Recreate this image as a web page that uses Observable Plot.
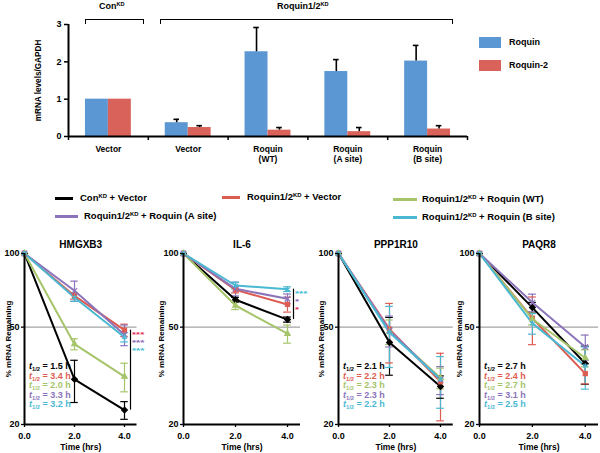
<!DOCTYPE html>
<html><head><meta charset="utf-8">
<script src="https://cdn.jsdelivr.net/npm/d3@7"></script>
<script src="https://cdn.jsdelivr.net/npm/@observablehq/plot@0.6"></script>
<style>
html,body{margin:0;padding:0;background:#fff;}
#root{position:relative;width:600px;height:453px;overflow:hidden;font-family:"Liberation Sans",Arial,sans-serif;font-weight:bold;color:#000;}
.abs{position:absolute;white-space:nowrap;}
sup.kd{font-size:0.62em;vertical-align:0;position:relative;top:-0.5em;}
</style></head><body><div id="root"></div>
<script>
// ---------- data: bar chart ----------
const barGroups = ["Vector", "Vector", "Roquin\n(WT)", "Roquin\n(A site)", "Roquin\n(B site)"];
const barSeries = ["Roquin", "Roquin-2"];
const roquinLevel = [1.00, 0.37, 2.27, 1.74, 2.02];
const roquinErr   = [0, 0.09, 0.65, 0.32, 0.42];
const roquin2Level = [1.00, 0.24, 0.17, 0.13, 0.20];
const roquin2Err   = [0, 0.05, 0.07, 0.11, 0.09];
const barYTicks = [0, 1, 2, 3];
const barColors = ["#5b97d2", "#d9625a"];
const bracketLabels = ["ConKD", "Roquin1/2KD"];

// ---------- data: decay curves ----------
const times = [0, 2, 4];
const genes = ["HMGXB3", "IL-6", "PPP1R10", "PAQR8"];
const lineSeries = ["ConKD + Vector", "Roquin1/2KD + Vector", "Roquin1/2KD + Roquin (WT)", "Roquin1/2KD + Roquin (A site)", "Roquin1/2KD + Roquin (B site)"];
const lineColors = ["#000000", "#dd5c52", "#a6c46a", "#8c74bb", "#4bb8d2"];
const starColors = ["#000000", "#e2345c", "#a6c46a", "#8a66b8", "#3fbcd6"];
const lineSymbols = ["diamond2", "square2", "triangle2", "times", "asterisk"];
const yTicksLine = [20, 50, 100];

const hmgxb3Mean = [[100,30.6,22.9],[100,67.1,48.6],[100,42.6,31.4],[100,70.4,46.5],[100,66.1,45.5]];
const hmgxb3Err  = [[0,6.0,1.9],[0,2.0,2.8],[0,2.2,4.2],[0,6.7,4.5],[0,2.3,2.0]];
const il6Mean = [[100,64.7,53.7],[100,71.0,61.9],[100,61.3,47.0],[100,71.7,65.3],[100,74.0,71.5]];
const il6Err  = [[0,1.5,1.3],[0,2.0,4.3],[0,2.3,4.0],[0,4.6,3.0],[0,2.3,1.6]];
const ppp1r10Mean = [[100,43.3,28.6],[100,49.1,29.9],[100,48.0,31.0],[100,48.5,30.5],[100,47.5,30.6]];
const ppp1r10Err  = [[0,11.5,3.0],[0,13.4,9.2],[0,5.5,3.0],[0,7.0,4.0],[0,13.3,7.3]];
const paqr8Mean = [[100,60.1,35.5],[100,54.4,32.3],[100,54.0,37.4],[100,63.0,41.5],[100,51.8,34.7]];
const paqr8Err  = [[0,3.0,6.3],[0,12.0,3.0],[0,3.0,3.0],[0,5.2,4.9],[0,5.0,6.8]];

const halfLives = [[1.5,3.4,2.0,3.3,3.2], [], [2.1,2.2,2.3,2.3,2.2], [2.7,2.4,2.7,3.1,2.5]];
const starSeries = [[1,3,4], [4,3,1], [], []];
const starLabels = [["***","***","***"], ["***","*","*"], [], []];

// ---------- helpers ----------
const root = document.getElementById("root");
const kd = s => s.replace(/KD/g, '<sup class="kd">KD</sup>');
function place(el, left, top) {
  const d = document.createElement("div");
  d.className = "abs";
  d.style.left = left + "px"; d.style.top = top + "px";
  if (typeof el === "string") d.innerHTML = el; else d.appendChild(el);
  root.appendChild(d);
  return d;
}
const svgStyle = fs => `background:transparent;overflow:visible;max-width:none;font-family:'Liberation Sans',Arial,sans-serif;font-size:${fs}px;font-weight:bold;color:#000;`;
function fixLabels(svg, sizes) {
  svg.querySelectorAll("text").forEach(t => {
    if (/[↑→←↓]/.test(t.textContent) && t.children.length === 0) t.textContent = t.textContent.replace(/[↑→←↓]/g, "").trim();
    const key = t.textContent.trim();
    if (sizes[key]) t.style.fontSize = sizes[key];
  });
}

// ---------- bar chart ----------
const barRows = [];
barGroups.forEach((g, gi) => {
  [[roquinLevel, roquinErr], [roquin2Level, roquin2Err]].forEach(([vals, errs], si) => {
    barRows.push({gi, si, series: barSeries[si], v: vals[gi], e: errs[gi]});
  });
});
const groupPad = 0.2125, barW = 0.2875, capB = 0.035;
const bx1 = d => d.gi + groupPad + d.si * barW;
const bx2 = d => bx1(d) + barW;
const bxc = d => bx1(d) + barW / 2;
const barErrRows = barRows.filter(d => d.e > 0);

const barPlot = Plot.plot({
  width: 600, height: 170,
  marginLeft: 68, marginRight: 133, marginTop: 24, marginBottom: 34,
  style: svgStyle(9),
  x: {domain: [0, barGroups.length], axis: null},
  y: {domain: [0, 3], axis: null},
  color: {domain: barSeries, range: barColors},
  marks: [
    Plot.rect(barRows, {x1: bx1, x2: bx2, y1: 0, y2: "v", fill: "series"}),
    Plot.ruleX(barErrRows, {x: bxc, y1: "v", y2: d => d.v + d.e, stroke: "#000", strokeWidth: 1.6}),
    Plot.ruleY(barErrRows, {y: d => d.v + d.e, x1: d => bxc(d) - capB, x2: d => bxc(d) + capB, stroke: "#000", strokeWidth: 1.6}),
    Plot.axisY({ticks: barYTicks, tickFormat: d => d, tickSize: 4, tickPadding: 3, strokeWidth: 1.5,
      label: "mRNA levels/GAPDH", labelAnchor: "center", labelArrow: false, labelOffset: 33, fontSize: 9}),
    Plot.axisX({ticks: d3.range(barGroups.length + 1), tickFormat: () => "", tickSize: 4, strokeWidth: 1.5, label: null}),
    Plot.ruleX([0], {strokeWidth: 2}),
    Plot.ruleY([0], {strokeWidth: 2}),
    Plot.text(barGroups, {x: (d, i) => i + 0.5, frameAnchor: "bottom", dy: 8, lineAnchor: "top", lineHeight: 1.18, fontSize: 8.5})
  ]
});
fixLabels(barPlot, {"mRNA levels/GAPDH": "8.2px"});
place(barPlot, 0, 0);

// brackets above groups
function bracket(x1, x2, top) {
  const d = document.createElement("div");
  d.style.cssText = `width:${x2 - x1}px;height:5px;border:1.5px solid #000;border-bottom:none;box-sizing:border-box;`;
  place(d, x1, top);
}
bracket(85, 144, 19);
bracket(160, 453, 19);
place(`<div style="font-size:9px;">${kd(bracketLabels[0])}</div>`, 99, 1);
place(`<div style="font-size:9px;">${kd(bracketLabels[1])}</div>`, 277, 1);

// bar legend
barSeries.forEach((s, i) => {
  place(`<div style="width:22px;height:11px;background:${barColors[i]}"></div>`, 479, 37 + i * 23);
  place(`<div style="font-size:9px;line-height:11px;">${s}</div>`, 509, 37 + i * 23);
});

// ---------- line legend ----------
const legendLayout = [[55, 198, 18, 80], [222, 197, 18, 247], [393, 199, 24, 422], [55, 216, 23, 84], [393, 217, 24, 422]];
lineSeries.forEach((s, i) => {
  const [lx, ly, len, tx] = legendLayout[i];
  place(`<div style="width:${len}px;height:2.5px;background:${lineColors[i]}"></div>`, lx, ly - 1);
  place(`<div style="font-size:9.5px;line-height:12px;">${kd(s)}</div>`, tx, ly - 6);
});

// ---------- decay panels ----------
const means = [hmgxb3Mean, il6Mean, ppp1r10Mean, paqr8Mean];
const errs = [hmgxb3Err, il6Err, ppp1r10Err, paqr8Err];
const panelLayout = [
  {left: 0,   width: 150, ml: 24, mr: 13.5, lo: 19},
  {left: 150, width: 150, ml: 33, mr: 0,    lo: 25},
  {left: 300, width: 155, ml: 38, mr: 2.25, lo: 20},
  {left: 450, width: 150, ml: 29, mr: 2,    lo: 23}
];
const capL = 0.15;
const panelTop = 228;

genes.forEach((gene, gi) => {
  const rows = [];
  lineSeries.forEach((s, si) => times.forEach((t, ti) => rows.push({series: s, si, t, v: means[gi][si][ti], e: errs[gi][si][ti]})));
  const errRows = rows.filter(d => d.e > 0);
  const L = panelLayout[gi];
  const last = times.length - 1;
  const hasStars = starSeries[gi].length > 0;
  const topV = hasStars ? d3.max(starSeries[gi], si => means[gi][si][last]) : null;
  const baseV = means[gi][0][last];
  const marks = [
    Plot.ruleY([50], {stroke: "#a3a3a3", strokeWidth: 1.3}),
    Plot.ruleX(errRows, {x: "t", y1: d => d.v - d.e, y2: d => d.v + d.e, stroke: "series", strokeWidth: 1.2}),
    Plot.ruleY(errRows, {y: d => d.v - d.e, x1: d => d.t - capL, x2: d => d.t + capL, stroke: "series", strokeWidth: 1.2}),
    Plot.ruleY(errRows, {y: d => d.v + d.e, x1: d => d.t - capL, x2: d => d.t + capL, stroke: "series", strokeWidth: 1.2}),
    Plot.line(rows, {x: "t", y: "v", z: "series", stroke: "series", strokeWidth: 2}),
    Plot.dot(rows, {x: "t", y: "v", symbol: "series", fill: "series", stroke: "series", r: 2.6, strokeWidth: 1.2}),
    Plot.ruleX([0], {strokeWidth: 2}),
    Plot.ruleY([20], {strokeWidth: 2}),
    Plot.axisY({ticks: yTicksLine, tickFormat: d => d, tickSize: 3, tickPadding: 2, strokeWidth: 1.3,
      label: "% mRNA Remaining", labelAnchor: "center", labelArrow: false, labelOffset: L.lo, fontSize: 9}),
    Plot.axisX({ticks: times, tickSize: 3, tickPadding: 5, strokeWidth: 1.3,
      label: "Time (hrs)", labelAnchor: "center", labelArrow: false, labelOffset: 25, fontSize: 9}),
    Plot.text([gene], {frameAnchor: "top", dy: -13, fontSize: 10})
  ];
  if (hasStars) marks.push(Plot.ruleX([times[last]], {y1: topV, y2: baseV, dx: 6, stroke: "#000", strokeWidth: 1.2}));
  const p = Plot.plot({
    width: L.width, height: 225,
    marginLeft: L.ml, marginRight: L.mr, marginTop: 25, marginBottom: 29,
    style: svgStyle(9),
    x: {domain: [0, 4.5], axis: null},
    y: {type: "log", domain: [20, 100], axis: null},
    color: {domain: lineSeries, range: lineColors},
    symbol: {domain: lineSeries, range: lineSymbols},
    marks
  });
  fixLabels(p, {"% mRNA Remaining": "8px", "Time (hrs)": "8.5px"});
  place(p, L.left, panelTop);

  // significance stars, positioned with the plot's own scales
  if (hasStars) {
    const sx = p.scale("x").apply(times[last]);
    const sy = p.scale("y").apply(topV);
    const html = starSeries[gi].map((si, k) =>
      `<div style="color:${starColors[si]};height:8.2px;line-height:8.2px;">${starLabels[gi][k]}</div>`).join("");
    place(`<div style="font-size:7px;transform:scale(1.5,1);transform-origin:0 0;">${html}</div>`, L.left + sx + 8, panelTop + sy + 1);
  }

  // half-life annotations
  if (halfLives[gi].length) {
    const lines = halfLives[gi].map((h, si) =>
      `<div style="color:${lineColors[si]};height:9.5px;line-height:9.5px;"><i>t</i><span style="font-size:5.8px;position:relative;top:2px;">1/2</span> = ${h.toFixed(1)} h</div>`).join("");
    place(`<div style="font-size:9px;">${lines}</div>`, L.left + L.ml + 5, 362);
  }
});
</script></body></html>
